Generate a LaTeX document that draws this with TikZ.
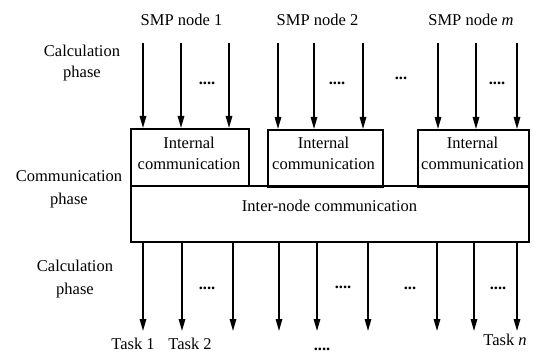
\documentclass[tikz,border=0pt]{standalone}
\usepackage{fontspec}
\setmainfont{Liberation Serif}
\usetikzlibrary{arrows.meta}
\begin{document}
\begin{tikzpicture}[x=1pt,y=-1pt,
  every node/.style={font=\fontsize{16.5}{21}\selectfont, inner sep=0pt},
  arr/.style={line width=1.5pt,-{Triangle[length=12pt,width=6.5pt]}},
  box/.style={draw,line width=1.8pt,minimum height=57pt,anchor=north west},
  lbl/.style={align=center},
  dots/.style={font=\fontsize{16.5}{17}\selectfont\bfseries}]
\useasboundingbox (0,0) rectangle (535,355);
% boxes
\node[box,minimum width=118pt] (b1) at (130,128) {};
\node[box,minimum width=115pt] (b2) at (267,129) {};
\node[box,minimum width=111pt] (b3) at (417,129) {};
\node[box,minimum width=398pt,minimum height=56pt] (inter) at (130,185) {};
\node[lbl] (t1) at (189,153) {Internal\\communication};
\node[lbl] (t2) at (323.5,153) {Internal\\communication};
\node[lbl] (t3) at (472.5,153) {Internal\\communication};
\node (tinter) at (329.5,206) {Inter-node communication};
% top labels
\node (s1) at (181.5,20) {SMP node 1};
\node (s2) at (317.5,20) {SMP node 2};
\node (s3) at (471,20) {SMP node \textit{m}};
\node[lbl] (lc1) at (82,63) {Calculation\\phase};
\node[lbl,font=\fontsize{16.5}{23}\selectfont] (lcm) at (69,189) {Communication\\phase};
\node[lbl,font=\fontsize{16.5}{23}\selectfont] (lc2) at (75,279) {Calculation\\phase};
% top arrows
\foreach \x/\b [count=\i] in {143/b1,181/b1,229/b1,278/b2,314/b2,363/b2,438/b3,476/b3,517/b3}{
  \coordinate (ta\i) at (\x,43);
  \draw[arr] (ta\i) -- (ta\i |- \b.north);
}
% bottom arrows
\foreach \x [count=\i] in {143,182,233,279,317,368,437,474,517}{
  \coordinate (ba\i) at (\x,331);
  \draw[arr] (ba\i |- inter.south) -- (ba\i);
}
% dots
\node[dots] (d1) at (207,83) {....};
\node[dots] (d2) at (337,83) {....};
\node[dots] (d3) at (401,78) {...};
\node[dots] (d4) at (497,83) {....};
\node[dots] (e1) at (207,288) {....};
\node[dots] (e2) at (343,287) {....};
\node[dots] (e3) at (410,288) {...};
\node[dots] (e4) at (498,288) {....};
\node[dots] (e5) at (322,349) {....};
% tasks
\node (k1) at (133,344) {Task 1};
\node (k2) at (190,344) {Task 2};
\node (kn) at (505,340) {Task \textit{n}};
\end{tikzpicture}
\end{document}
